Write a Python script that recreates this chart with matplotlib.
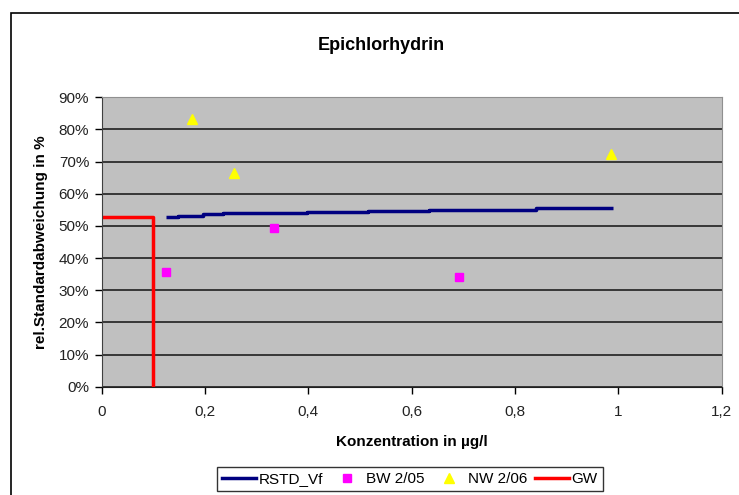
import matplotlib
matplotlib.use("Agg")
import matplotlib.pyplot as plt
from matplotlib.ticker import FuncFormatter, MultipleLocator
from matplotlib.lines import Line2D
from matplotlib.patches import Rectangle

plt.rcParams['font.family'] = ['Liberation Sans', 'DejaVu Sans']

# RSTD_Vf (step line)
rstd_x = [0.125, 0.148, 0.197, 0.235, 0.397, 0.515, 0.633, 0.840, 0.989]
rstd_y = [52.9, 53.2, 53.6, 54.0, 54.4, 54.7, 55.0, 55.5, 55.5]

# BW 2/05
bw_x = [0.124, 0.334, 0.692]
bw_y = [35.8, 49.2, 34.2]

# NW 2/06
nw_x = [0.174, 0.256, 0.986]
nw_y = [83.1, 66.5, 72.3]

# GW
gw_x = [0.0, 0.1, 0.1]
gw_y = [52.9, 52.9, 0.0]

fig = plt.figure(figsize=(7.39, 4.95), dpi=100)
# outer chart border (cut off on the right and bottom like the original)
fig.patches.append(Rectangle((11 / 739, -0.1), 1.2, 1.1 - 12.5 / 495,
                             transform=fig.transFigure, fill=False,
                             edgecolor='black', linewidth=1.2))
ax = fig.add_axes([101.7 / 739, 1 - 386.7 / 495, 620 / 739, 289.4 / 495])
ax.set_facecolor('#c0c0c0')

ax.step(rstd_x, rstd_y, where='post', color='#000080', lw=2.5, solid_capstyle='butt')
ax.plot(bw_x, bw_y, 's', color='#ff00ff', ms=6, ls='none')
ax.plot(nw_x, nw_y, '^', color='#ffff00', ms=7, ls='none')
ax.plot(gw_x, gw_y, color='#ff0000', lw=2.5)

ax.set_xlim(0, 1.2)
ax.set_ylim(0, 90)
ax.xaxis.set_major_locator(MultipleLocator(0.2))
ax.yaxis.set_major_locator(MultipleLocator(10))
ax.xaxis.set_major_formatter(FuncFormatter(lambda v, p: ('%g' % round(v, 1)).replace('.', ',')))
ax.yaxis.set_major_formatter(FuncFormatter(lambda v, p: '%d%%' % round(v)))
ax.grid(axis='y', color='#202020', lw=1.2)
ax.set_axisbelow(True)
ax.tick_params(direction='out', length=5, width=1, colors='black', labelsize=11, pad=4)
ax.tick_params(axis='x', pad=8)
for lab in ax.get_xticklabels() + ax.get_yticklabels():
    lab.set_color('#222222')
ax.spines['left'].set_color('#404040')
ax.spines['bottom'].set_color('#202020')
ax.spines['top'].set_color('#909090')
ax.spines['right'].set_color('#909090')

ax.set_xlabel('Konzentration in µg/l', fontsize=11, fontweight='bold', labelpad=12)
ax.set_ylabel('rel.Standardabweichung in %', fontsize=11, fontweight='bold', labelpad=8)
fig.text(381 / 739, 1 - 45 / 495, 'Epichlorhydrin', ha='center', va='center',
         fontsize=13, fontweight='bold')

handles = [Line2D([], [], color='#000080', lw=2.5),
           Line2D([], [], marker='s', color='#ff00ff', ls='none', ms=6),
           Line2D([], [], marker='^', color='#ffff00', ls='none', ms=7),
           Line2D([], [], color='#ff0000', lw=2.5)]
leg = fig.legend(handles, ['RSTD_Vf', 'BW 2/05', 'NW 2/06', 'GW'], ncol=4,
                 loc='center', bbox_to_anchor=(410 / 739, 1 - 479 / 495),
                 frameon=True, fancybox=False, fontsize=11, handlelength=2.2,
                 handletextpad=0.15, columnspacing=0.5, borderpad=0.35,
                 borderaxespad=0)
leg.get_frame().set_edgecolor('black')
leg.get_frame().set_linewidth(1)

fig.savefig('out.png', dpi=100)
